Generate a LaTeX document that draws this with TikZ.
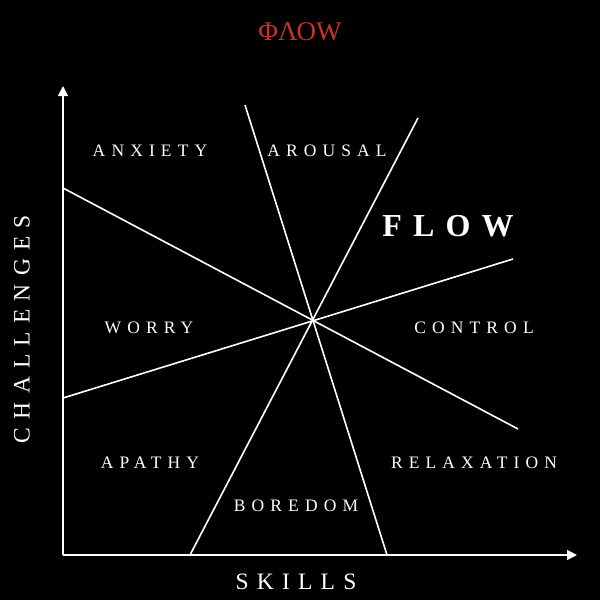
\documentclass[tikz,border=0pt]{standalone}
\usepackage{fontspec}
\setmainfont{Liberation Serif}
\newfontfamily\spaced[LetterSpace=35]{Liberation Serif}
\usetikzlibrary{arrows.meta}
\begin{document}
\begin{tikzpicture}[x=1pt,y=-1pt,
  ln/.style={white,line width=1.6pt},
  lab/.style={white,font=\spaced\fontsize{17.5}{17.5}\selectfont,inner sep=0pt}]
\fill[black] (0,0) rectangle (600,600);
\useasboundingbox (0,0) rectangle (600,600);
\coordinate (o) at (63,555);
\coordinate (yt) at (63,86);
\coordinate (xt) at (577,555);
\draw[ln,-{Triangle[length=10pt,width=10pt]}] (o) -- (yt);
\draw[ln,-{Triangle[length=10pt,width=10pt]}] (o) -- (xt);
\coordinate (a1) at (245,105); \coordinate (a2) at (387,555);
\coordinate (b1) at (418,118); \coordinate (b2) at (190,555);
\coordinate (c1) at (63,188); \coordinate (c2) at (518,429);
\coordinate (d1) at (63,398); \coordinate (d2) at (513,259);
\draw[ln] (a1)--(a2); \draw[ln] (b1)--(b2); \draw[ln] (c1)--(c2); \draw[ln] (d1)--(d2);
\node[text={rgb,255:red,200;green,50;blue,40},font=\fontsize{27}{27}\selectfont] (t) at (300,32) {ΦΛΟW};
\node[lab] (n1) at (150,151) {ANXIETY};
\node[lab] (n2) at (327,151) {AROUSAL};
\node[white,font=\spaced\bfseries\fontsize{32}{32}\selectfont,inner sep=0pt] (n3) at (448,226) {FLOW};
\node[lab] (n4) at (149,328) {WORRY};
\node[lab] (n5) at (474,328) {CONTROL};
\node[lab] (n6) at (150,463) {APATHY};
\node[lab] (n7) at (474,463) {RELAXATION};
\node[lab] (n8) at (296,506) {BOREDOM};
\node[lab,font=\spaced\fontsize{23.5}{23.5}\selectfont] (n9) at (296,582) {SKILLS};
\node[lab,font=\spaced\fontsize{23.5}{23.5}\selectfont,rotate=90] (n10) at (22,329) {CHALLENGES};
\end{tikzpicture}
\end{document}
